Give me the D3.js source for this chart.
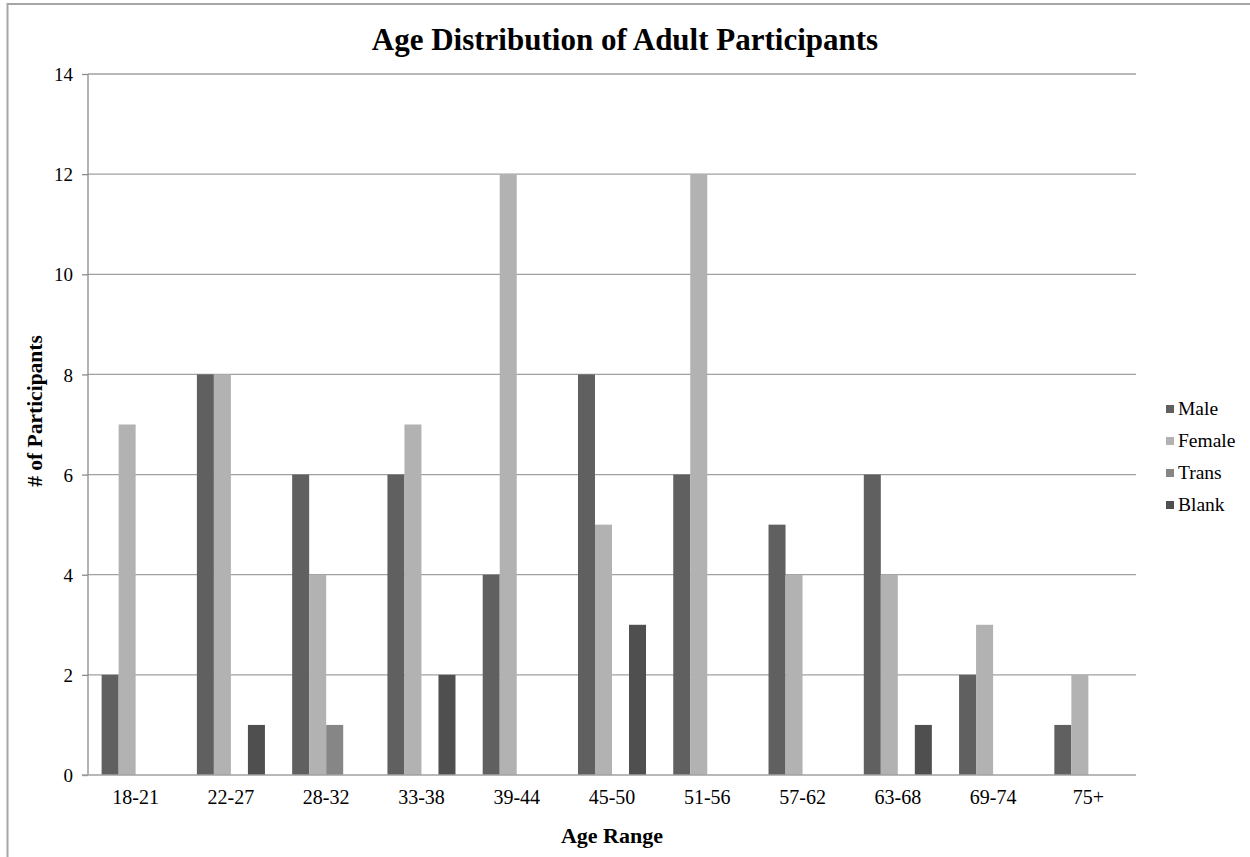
<!DOCTYPE html>
<html>
<head>
<meta charset="utf-8">
<script src="https://cdn.jsdelivr.net/npm/d3@7"></script>
<style>
  html, body { margin: 0; padding: 0; background: #fff; }
  svg { display: block; }
  text { font-family: "Liberation Serif", "Times New Roman", serif; fill: #000; }
</style>
</head>
<body>
<svg id="chart" width="1250" height="857"></svg>
<script>
const categories = ["18-21", "22-27", "28-32", "33-38", "39-44", "45-50", "51-56", "57-62", "63-68", "69-74", "75+"];
const seriesNames = ["Male", "Female", "Trans", "Blank"];
const male   = [2, 8, 6, 6, 4, 8, 6, 5, 6, 2, 1];
const female = [7, 8, 4, 7, 12, 5, 12, 4, 4, 3, 2];
const trans  = [0, 0, 1, 0, 0, 0, 0, 0, 0, 0, 0];
const blank  = [0, 1, 0, 2, 0, 3, 0, 0, 1, 0, 0];
const yTicks = [0, 2, 4, 6, 8, 10, 12, 14];
const colors = ["#606060", "#b2b2b2", "#868686", "#4f4f4f"];

const seriesValues = [male, female, trans, blank];
const svg = d3.select("#chart");
const FONT = "Liberation Serif, Times New Roman, serif";

// outer chart border
svg.append("rect").attr("x", 7.5).attr("y", 4).attr("width", 1260).attr("height", 880)
  .attr("fill", "none").attr("stroke", "#a6a6a6").attr("stroke-width", 2);

const plot = { left: 88, right: 1136, top: 74, bottom: 775 };

const x = d3.scaleBand().domain(categories).range([plot.left, plot.right]).paddingInner(0).paddingOuter(0);
const xs = d3.scaleBand().domain(seriesNames).range([0, x.bandwidth()]).paddingInner(0).paddingOuter(0.8);
const y = d3.scaleLinear().domain([0, 14]).range([plot.bottom, plot.top]);

// gridlines
svg.append("g").selectAll("line").data(yTicks.filter(d => d > 0)).join("line")
  .attr("x1", plot.left).attr("x2", plot.right)
  .attr("y1", d => y(d)).attr("y2", d => y(d))
  .attr("stroke", "#a0a0a0").attr("stroke-width", 1.3);

// bars
const groups = svg.append("g").selectAll("g").data(categories).join("g")
  .attr("transform", d => `translate(${x(d)},0)`);
groups.selectAll("rect")
  .data((c, i) => seriesNames.map((s, j) => ({ s, v: seriesValues[j][i], j })))
  .join("rect")
  .attr("x", d => xs(d.s))
  .attr("width", xs.bandwidth())
  .attr("y", d => y(d.v))
  .attr("height", d => y(0) - y(d.v))
  .attr("fill", d => colors[d.j]);

// y axis
const yAxis = d3.axisLeft(y).tickValues(yTicks).tickSize(6).tickPadding(9).tickFormat(d3.format("d"));
const yg = svg.append("g").attr("transform", `translate(${plot.left},0)`).call(yAxis)
  .attr("font-family", FONT).attr("font-size", 19);
yg.select(".domain").attr("stroke", "#8c8c8c").attr("stroke-width", 1.3).attr("d", `M0,${plot.top}V${plot.bottom}`);
yg.selectAll(".tick line").attr("stroke", "#8c8c8c").attr("stroke-width", 1.3);
yg.selectAll(".tick text").attr("fill", "#000").attr("dy", "0.35em");

// x axis
const xAxis = d3.axisBottom(x).tickSize(0).tickPadding(15);
const xg = svg.append("g").attr("transform", `translate(0,${plot.bottom})`).call(xAxis)
  .attr("font-family", FONT).attr("font-size", 20);
xg.select(".domain").attr("stroke", "#a0a0a0").attr("stroke-width", 1.6).attr("d", `M${plot.left - 6},0H${plot.right}`);
xg.selectAll(".tick text").attr("fill", "#000");

// title
svg.append("text").attr("x", 625).attr("y", 50).attr("text-anchor", "middle")
  .attr("font-family", FONT).attr("font-size", 31).attr("font-weight", "bold")
  .text("Age Distribution of Adult Participants");

// axis titles
svg.append("text").attr("x", 612).attr("y", 843).attr("text-anchor", "middle")
  .attr("font-family", FONT).attr("font-size", 22).attr("font-weight", "bold").text("Age Range");
svg.append("text").attr("transform", "translate(42,411) rotate(-90)").attr("text-anchor", "middle")
  .attr("font-family", FONT).attr("font-size", 21.5).attr("font-weight", "bold").text("# of Participants");

// legend
const legend = svg.append("g").selectAll("g").data(seriesNames).join("g")
  .attr("transform", (d, i) => `translate(1166,${409 + i * 32})`);
legend.append("rect").attr("x", 0).attr("y", -4).attr("width", 8).attr("height", 8)
  .attr("fill", (d, i) => colors[i]);
legend.append("text").attr("x", 12).attr("y", 6)
  .attr("font-family", FONT).attr("font-size", 19.5).text(d => d);
</script>
</body>
</html>
